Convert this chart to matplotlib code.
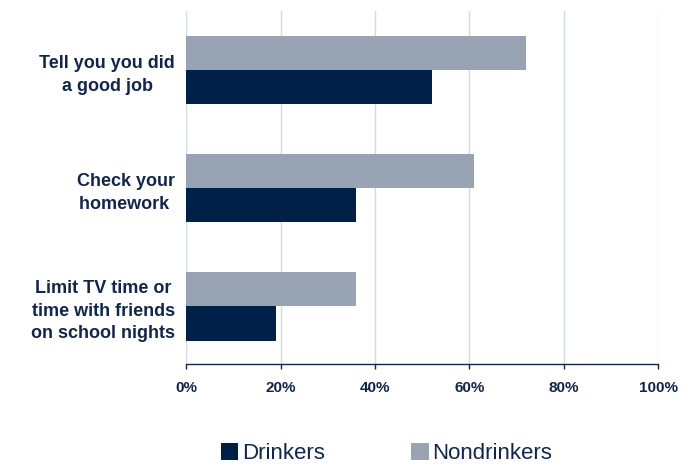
import matplotlib.pyplot as plt
import numpy as np

categories = ['Tell you you did\na good job',
              'Check your\nhomework ',
              'Limit TV time or\ntime with friends\non school nights']
drinkers = [52, 36, 19]
nondrinkers = [72, 61, 36]
ticks = [0, 20, 40, 60, 80, 100]

navy = '#002147'
gray = '#98a3b3'
text_col = '#12264a'

plt.rcParams['font.family'] = ['Liberation Sans', 'DejaVu Sans']

fig = plt.figure(figsize=(6.95, 4.66), dpi=100)
ax = fig.add_axes([0.268, 0.219, 0.679, 0.7575])

y = np.arange(len(categories))
h = 0.29
ax.barh(y - h / 2, nondrinkers, height=h, color=gray, label='Nondrinkers', zorder=3)
ax.barh(y + h / 2, drinkers, height=h, color=navy, label='Drinkers', zorder=3)

ax.set_xlim(0, 100)
ax.set_ylim(2.487, -0.499)
ax.set_xticks(ticks)
ax.set_xticklabels([f'{t}%' for t in ticks], fontsize=11, fontweight='bold', color=text_col)
ax.set_yticks(y)
ax.set_yticklabels(categories, fontsize=13, fontweight='bold', color=text_col,
                   multialignment='center', linespacing=1.43)

ax.grid(axis='x', color='#d5dae2', linewidth=1, zorder=0)
for s in ['top', 'right', 'left']:
    ax.spines[s].set_visible(False)
ax.spines['bottom'].set_color(text_col)
ax.spines['bottom'].set_linewidth(1)
ax.tick_params(axis='x', direction='out', length=3.6, width=1, color=text_col, pad=9)
ax.tick_params(axis='y', length=0, pad=8)

handles, labels = ax.get_legend_handles_labels()
fig.legend(handles[::-1], labels[::-1], loc='center', bbox_to_anchor=(0.556, 0.027),
           ncol=2, frameon=False, fontsize=16, handlelength=0.8, handleheight=0.8,
           handletextpad=0.15, columnspacing=3.9, labelcolor=text_col)

plt.savefig('out.png', dpi=100)
